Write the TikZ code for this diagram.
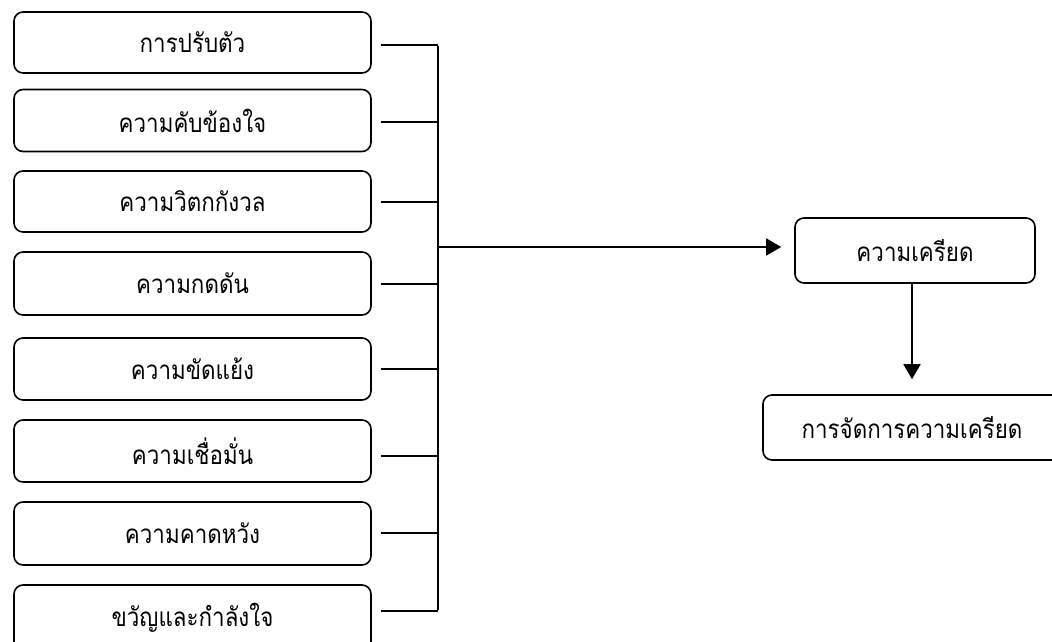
\documentclass[tikz,border=0pt]{standalone}
\usepackage{fontspec}
\newfontfamily\thaifont[Script=Thai,FakeStretch=0.86]{Loma}
\usetikzlibrary{arrows.meta,calc}
\begin{document}
\begin{tikzpicture}[x=1pt,y=-1pt,
  lbox/.style={draw=black,line width=1.6pt,rounded corners=9pt,inner sep=0pt,
    font=\thaifont\fontsize{26}{30}\selectfont},
  conn/.style={line width=1.6pt},
  arr/.style={line width=1.6pt,-{Triangle[length=15pt,width=17pt]}}]
\useasboundingbox (0,0) rectangle (1052,642);
\clip (0,0) rectangle (1052,642);
\fill[white] (0,0) rectangle (1052,642);
% left boxes
\node[lbox,minimum width=357pt,minimum height=61pt] (b1) at (192.5,42.5) {\raisebox{-12pt}{การปรับตัว}};
\node[lbox,minimum width=357pt,minimum height=62pt] (b2) at (192.5,120.5) {\raisebox{-12pt}{ความคับข้องใจ}};
\node[lbox,minimum width=357pt,minimum height=61pt] (b3) at (192.5,201.5) {\raisebox{-12pt}{ความวิตกกังวล}};
\node[lbox,minimum width=357pt,minimum height=63pt] (b4) at (192.5,283.5) {\raisebox{-12pt}{ความกดดัน}};
\node[lbox,minimum width=357pt,minimum height=62pt] (b5) at (192.5,369) {\raisebox{-12pt}{ความขัดแย้ง}};
\node[lbox,minimum width=357pt,minimum height=62pt] (b6) at (192.5,451) {\raisebox{-12pt}{ความเชื่อมั่น}};
\node[lbox,minimum width=357pt,minimum height=63pt] (b7) at (192.5,533.5) {\raisebox{-12pt}{ความคาดหวัง}};
\node[lbox,minimum width=357pt,minimum height=66pt] (b8) at (192.5,618) {\raisebox{-12pt}{ขวัญและกำลังใจ}};
% right boxes
\node[lbox,minimum width=240pt,minimum height=65pt] (s) at (915,250.5) {\raisebox{-10pt}{ความเครียด}};
\node[lbox,minimum width=298pt,minimum height=65pt] (m) at (912,427.5) {\raisebox{-7pt}{การจัดการความเครียด}};
% junctions
\coordinate (j1) at (438,45);
\coordinate (j2) at (438,122);
\coordinate (j3) at (438,202);
\coordinate (j4) at (438,284);
\coordinate (j5) at (438,369);
\coordinate (j6) at (438,456);
\coordinate (j7) at (438,533);
\coordinate (j8) at (438,611);
\coordinate (jm) at (438,247);
\foreach \i in {1,...,8}{
  \draw[conn] ($(b\i.east |- j\i)+(9,0)$) -- (j\i);
}
\draw[conn] ([yshift=-0.8pt]j1) -- ([yshift=0.8pt]j8);
\draw[arr,shorten >=13pt] (jm) -- (jm -| s.west);
\draw[arr,shorten >=15pt] (s.south -| m.north) -- (m.north);
\end{tikzpicture}
\end{document}
